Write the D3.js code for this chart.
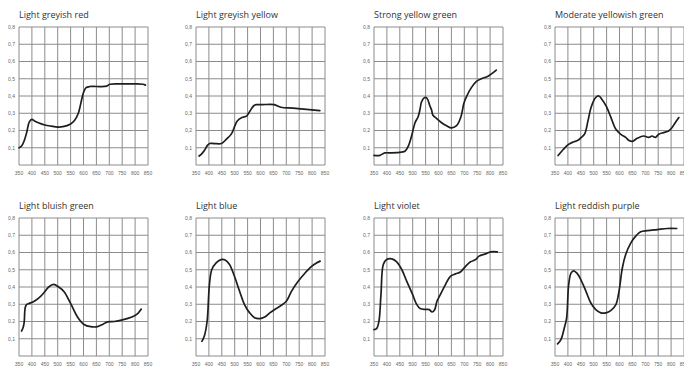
<!DOCTYPE html>
<html>
<head>
<meta charset="utf-8">
<script src="https://cdn.jsdelivr.net/npm/d3@7"></script>
<style>
  html, body { margin: 0; padding: 0; background: #fff; }
  svg { display: block; }
  .title { font-family: "Open Sans", "Liberation Sans", sans-serif; font-size: 9px; fill: #333; }
  .tick-label { font-family: "Liberation Sans", Arial, sans-serif; font-size: 5px; fill: #666; }
</style>
</head>
<body>
<svg id="chart" width="684" height="367"></svg>
<script>
// Reflectance spectra, [wavelength nm, reflectance]
const titles = [
  "Light greyish red", "Light greyish yellow", "Strong yellow green", "Moderate yellowish green",
  "Light bluish green", "Light blue", "Light violet", "Light reddish purple"
];

const lightGreyishRed = [[350,0.10],[360,0.11],[370,0.14],[380,0.19],[390,0.25],[400,0.265],[410,0.255],[425,0.245],[450,0.232],[475,0.225],[500,0.22],[525,0.224],[550,0.238],[565,0.258],[580,0.30],[590,0.36],[600,0.42],[610,0.448],[625,0.455],[650,0.455],[690,0.457],[702,0.468],[750,0.47],[800,0.47],[830,0.468],[840,0.463]];
const lightGreyishYellow = [[362,0.052],[372,0.065],[383,0.085],[395,0.115],[403,0.125],[422,0.124],[449,0.125],[468,0.15],[488,0.182],[500,0.225],[510,0.255],[528,0.275],[547,0.285],[560,0.315],[575,0.345],[585,0.35],[607,0.35],[653,0.35],[679,0.335],[725,0.33],[778,0.322],[830,0.315]];
const strongYellowGreen = [[350,0.056],[373,0.056],[392,0.07],[418,0.07],[457,0.075],[470,0.08],[483,0.11],[496,0.17],[509,0.245],[521,0.28],[528,0.32],[534,0.365],[545,0.39],[555,0.388],[566,0.345],[573,0.32],[578,0.29],[592,0.27],[612,0.245],[631,0.228],[650,0.215],[670,0.228],[687,0.28],[698,0.355],[708,0.395],[728,0.45],[747,0.485],[766,0.5],[792,0.515],[824,0.55]];
const moderateYellowishGreen = [[362,0.055],[382,0.09],[401,0.118],[420,0.133],[439,0.143],[452,0.16],[465,0.18],[478,0.257],[490,0.335],[507,0.39],[520,0.40],[532,0.38],[548,0.343],[567,0.275],[586,0.207],[605,0.178],[624,0.16],[637,0.142],[650,0.137],[669,0.155],[694,0.168],[713,0.16],[726,0.168],[739,0.16],[752,0.178],[771,0.188],[790,0.197],[803,0.216],[816,0.245],[830,0.275]];
const lightBluishGreen = [[360,0.145],[366,0.165],[370,0.195],[374,0.28],[379,0.298],[390,0.305],[406,0.315],[426,0.335],[445,0.364],[465,0.40],[484,0.415],[504,0.40],[524,0.374],[550,0.305],[576,0.228],[602,0.183],[628,0.17],[654,0.17],[674,0.183],[693,0.198],[719,0.2],[746,0.208],[772,0.218],[798,0.233],[811,0.247],[824,0.272]];
const lightBlue = [[373,0.085],[382,0.114],[393,0.2],[402,0.414],[411,0.50],[428,0.54],[447,0.559],[463,0.557],[480,0.53],[499,0.462],[519,0.375],[538,0.298],[558,0.25],[577,0.222],[597,0.217],[616,0.226],[636,0.25],[655,0.27],[681,0.294],[700,0.317],[720,0.375],[746,0.433],[772,0.48],[798,0.52],[818,0.54],[831,0.55]];
const lightViolet = [[350,0.153],[360,0.159],[369,0.2],[377,0.356],[386,0.53],[399,0.559],[419,0.563],[438,0.546],[458,0.50],[477,0.433],[497,0.366],[516,0.298],[529,0.275],[549,0.27],[564,0.269],[575,0.255],[585,0.268],[594,0.317],[607,0.356],[627,0.414],[646,0.462],[666,0.476],[685,0.487],[705,0.52],[724,0.546],[744,0.559],[757,0.579],[783,0.592],[802,0.604],[828,0.604]];
const lightReddishPurple = [[360,0.07],[373,0.095],[386,0.162],[395,0.22],[403,0.414],[412,0.48],[422,0.494],[435,0.48],[450,0.443],[470,0.375],[489,0.307],[508,0.269],[528,0.25],[547,0.25],[566,0.263],[586,0.298],[598,0.375],[611,0.51],[624,0.588],[644,0.656],[663,0.695],[682,0.72],[708,0.727],[747,0.733],[785,0.739],[822,0.739]];

const spectra = [lightGreyishRed, lightGreyishYellow, strongYellowGreen, moderateYellowishGreen,
                 lightBluishGreen, lightBlue, lightViolet, lightReddishPurple];

const xTicks = [350,400,450,500,550,600,650,700,750,800,850];
const yTicks = [0.1,0.2,0.3,0.4,0.5,0.6,0.7,0.8];
const yTickLabels = ["0,1","0,2","0,3","0,4","0,5","0,6","0,7","0,8"];

// Panel geometry
const panelLefts = [19, 196, 374, 555];
const panelWidth = 129;
const rowTops = [27, 218];
const panelHeight = 138;

const svg = d3.select("#chart");

spectra.forEach((data, i) => {
  const col = i % 4, row = Math.floor(i / 4);
  const left = panelLefts[col], top = rowTops[row];

  const x = d3.scaleLinear().domain([350, 850]).range([left, left + panelWidth]);
  const y = d3.scaleLinear().domain([0, 0.8]).range([top + panelHeight, top]);

  const g = svg.append("g");

  g.append("text").attr("class", "title")
    .attr("x", left).attr("y", top - 9)
    .text(titles[i]);

  // Grid
  g.append("g").selectAll("line").data(xTicks).join("line")
    .attr("x1", d => x(d)).attr("x2", d => x(d))
    .attr("y1", y(0)).attr("y2", y(0.8))
    .attr("stroke", "#8c8c8c").attr("stroke-width", 1);
  g.append("g").selectAll("line").data([0].concat(yTicks)).join("line")
    .attr("x1", x(350)).attr("x2", x(850))
    .attr("y1", d => y(d)).attr("y2", d => y(d))
    .attr("stroke", "#8c8c8c").attr("stroke-width", 1);

  // Tick labels
  g.append("g").selectAll("text").data(yTicks).join("text")
    .attr("class", "tick-label")
    .attr("x", x(350) - 4).attr("y", d => y(d) + 1.8)
    .attr("text-anchor", "end")
    .text((d, k) => yTickLabels[k]);
  g.append("g").selectAll("text").data(xTicks).join("text")
    .attr("class", "tick-label")
    .attr("x", d => x(d)).attr("y", y(0) + 9.5)
    .attr("text-anchor", "middle")
    .text(d => d);

  const line = d3.line()
    .x(d => x(d[0])).y(d => y(d[1]))
    .curve(d3.curveCatmullRom.alpha(0.5));

  g.append("path").datum(data)
    .attr("d", line)
    .attr("fill", "none")
    .attr("stroke", "#1e1e1e")
    .attr("stroke-width", 1.7)
    .attr("stroke-linejoin", "round")
    .attr("stroke-linecap", "round");
});
</script>
</body>
</html>
